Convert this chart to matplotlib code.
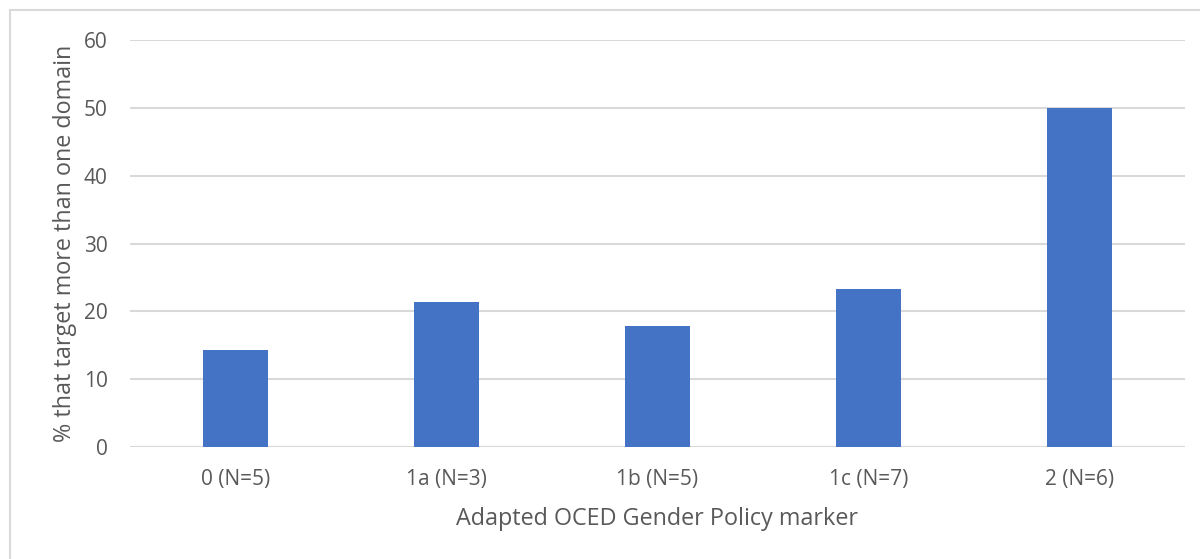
import matplotlib
matplotlib.use('Agg')
import matplotlib.pyplot as plt
from matplotlib.patches import Rectangle

categories = ['0 (N=5)', '1a (N=3)', '1b (N=5)', '1c (N=7)', '2 (N=6)']
pct_multi_domain = [14.3, 21.4, 17.9, 23.3, 50.0]
yticks = [0, 10, 20, 30, 40, 50, 60]

plt.rcParams['font.family'] = ['Open Sans', 'DejaVu Sans']
txt = '#595959'
grid = '#d9d9d9'

fig = plt.figure(figsize=(12, 5.59), dpi=100)
ax = fig.add_axes([0.1083, 0.2004, 0.8792, 0.728])

x = range(len(categories))
ax.bar(x, pct_multi_domain, width=0.31, color='#4472c4', zorder=3)

ax.set_xlim(-0.5, len(categories) - 0.5)
ax.set_ylim(0, 60)
ax.set_yticks(yticks)
ax.set_xticks(list(x))
ax.set_xticklabels(categories)
ax.yaxis.grid(True, color=grid, linewidth=1.5, zorder=0)
ax.tick_params(axis='both', length=0, labelsize=15, colors=txt)
ax.tick_params(axis='x', pad=16)
ax.tick_params(axis='y', pad=16)
for s in ax.spines.values():
    s.set_visible(False)
ax.axhline(0, color=grid, linewidth=1.5, zorder=2)

ax.set_xlabel('Adapted OCED Gender Policy marker', fontsize=16.8, color=txt, va='center')
ax.set_ylabel('% that target more than one domain', fontsize=16.8, color=txt, va='center')
ax.xaxis.set_label_coords(0.5, -72 / 407)
ax.yaxis.set_label_coords(-65 / 1055, 0.5)

# outer chart border
fig.patches.append(Rectangle((10 / 1200, -0.01), 1.0, 1 - 10 / 559 + 0.01,
                             transform=fig.transFigure, fill=False,
                             edgecolor=grid, linewidth=1.5))

fig.savefig('out.png')
plt.close(fig)
